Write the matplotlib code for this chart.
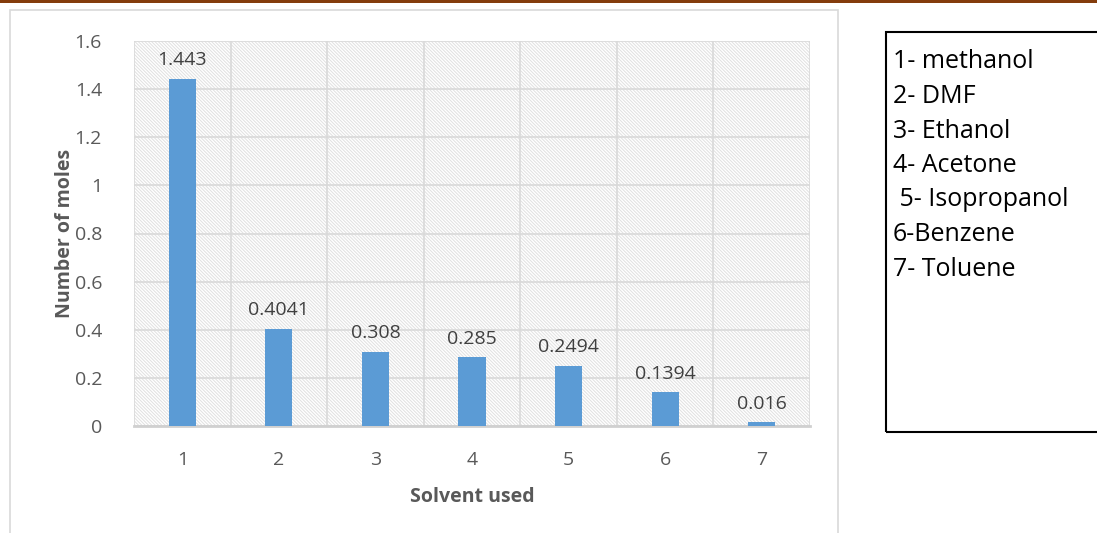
import matplotlib.pyplot as plt
from matplotlib.patches import Rectangle

# data
solvents = ['1', '2', '3', '4', '5', '6', '7']
moles = [1.443, 0.4041, 0.308, 0.285, 0.2494, 0.1394, 0.016]
value_labels = ['1.443', '0.4041', '0.308', '0.285', '0.2494', '0.1394', '0.016']
legend_lines = ['1- methanol', '2- DMF', '3- Ethanol', '4- Acetone',
                ' 5- Isopropanol', '6-Benzene', '7- Toluene']

plt.rcParams['font.family'] = ['Open Sans', 'DejaVu Sans']
plt.rcParams['hatch.linewidth'] = 0.7

W, H = 1097, 533
fig = plt.figure(figsize=(W / 100, H / 100), dpi=100)
ax = fig.add_axes([134 / W, 1 - 426 / H, (810 - 134) / W, (426 - 41) / H])

# hatched plot area background
ax.add_patch(Rectangle((0, 0), 1, 1, transform=ax.transAxes, facecolor='white',
                       edgecolor='#e0e0e0', hatch='\\' * 10, lw=0, zorder=0))

x = list(range(len(solvents)))
ax.bar(x, moles, width=0.28, color='#5b9bd5', zorder=3)
for i, (v, lab) in enumerate(zip(moles, value_labels)):
    ax.text(i, v + 0.04, lab, ha='center', va='bottom', fontsize=14,
            color='#404040', zorder=4)

ax.set_xlim(-0.5, 6.5)
ax.set_ylim(0, 1.6)
ax.set_yticks([0, 0.2, 0.4, 0.6, 0.8, 1, 1.2, 1.4, 1.6])
ax.set_yticklabels(['0', '0.2', '0.4', '0.6', '0.8', '1', '1.2', '1.4', '1.6'])
ax.set_xticks(x)
ax.set_xticklabels(solvents)
ax.set_xticks([i + 0.5 for i in range(-1, 7)], minor=True)
ax.tick_params(axis='both', which='both', length=0, labelsize=14,
               colors='#595959')
ax.tick_params(axis='x', pad=18)
ax.tick_params(axis='y', pad=23)
ax.grid(axis='y', which='major', color='#d9d9d9', lw=1.2, zorder=1)
ax.grid(axis='x', which='minor', color='#d9d9d9', lw=1.2, zorder=1)
ax.set_axisbelow(True)
for s in ['top', 'right', 'left']:
    ax.spines[s].set_visible(False)
ax.spines['bottom'].set_color('#d0d0d0')
ax.spines['bottom'].set_linewidth(2)

ax.set_ylabel('Number of moles', fontsize=14, fontweight='bold',
              color='#595959', labelpad=0)
ax.set_xlabel('Solvent used', fontsize=14, fontweight='bold',
              color='#595959', labelpad=13)

# outer chart frame
fig.patches.append(Rectangle((10 / W, -0.01), (838 - 10) / W, 1 - 10 / H + 0.01,
                             transform=fig.transFigure, fill=False,
                             edgecolor='#d9d9d9', lw=1.2))
# brown top rule
fig.patches.append(Rectangle((0, 1 - 3 / H), 1, 3 / H, transform=fig.transFigure,
                             facecolor='#843c0c', edgecolor='none'))
# legend box
fig.patches.append(Rectangle((886 / W, 1 - 432 / H), (1100 - 886) / W, 400 / H,
                             transform=fig.transFigure, fill=False,
                             edgecolor='black', lw=1.5))
for i, line in enumerate(legend_lines):
    fig.text(893 / W, 1 - (62 + i * 34.5) / H, line, fontsize=18,
             color='black', va='center', ha='left')

fig.savefig('out.png', dpi=100)
